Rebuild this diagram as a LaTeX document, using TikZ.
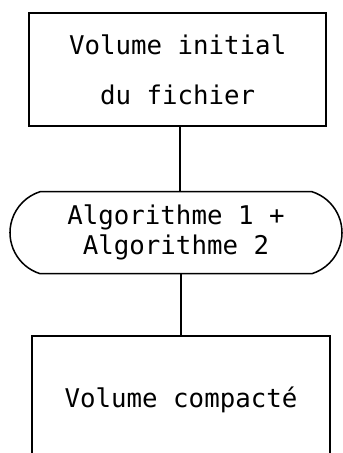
\documentclass[tikz,border=0pt]{standalone}
\usepackage{fontspec}
\setmonofont{DejaVu Sans Mono}
\usetikzlibrary{positioning, shapes.misc}

\begin{document}
\begin{tikzpicture}[
  node distance=1.92cm,
  every node/.style={font=\ttfamily\fontsize{22}{25.5}\selectfont},
  box/.style={draw, line width=1.3pt, minimum width=8.91cm, minimum height=3.39cm, align=center},
  algo/.style={draw, line width=1.3pt, rounded rectangle, rounded rectangle arc length=145,
               minimum width=9.96cm, minimum height=2.46cm, align=center, inner sep=0pt},
  link/.style={line width=1.3pt}
]
\clip (0,0) rectangle (10.29,-13.59);
\node[box] (init) at (5.33,-2.09) {Volume initial\\[17pt]du fichier};
\node[algo, below=1.92cm of init, xshift=-0.05cm] (algo) {Algorithme 1 +\\Algorithme 2};
\node[box, below=1.83cm of algo, xshift=0.15cm, minimum width=8.94cm, minimum height=3.84cm] (final) {Volume compacté};

\draw[link] (init.south) ++(0.07,0) coordinate (a) -- (a |- algo.north);
\draw[link] (final.north) -- (final.north |- algo.south);
\end{tikzpicture}
\end{document}
